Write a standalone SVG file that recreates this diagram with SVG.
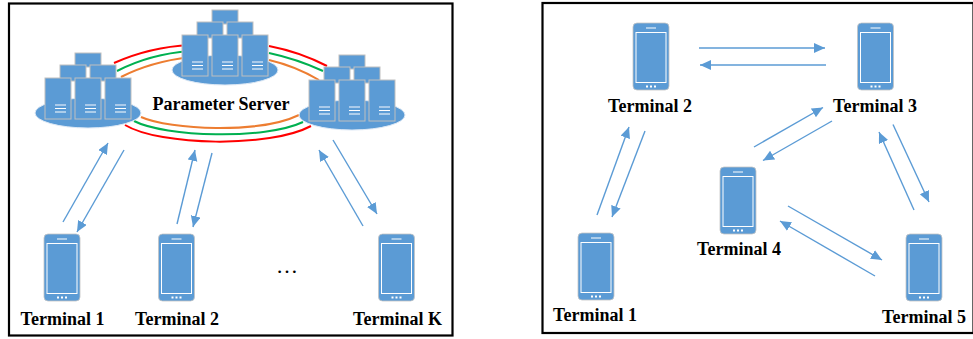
<svg xmlns="http://www.w3.org/2000/svg" width="973" height="339" viewBox="0 0 973 339">
<style>
.t{font-family:"Liberation Serif",serif;font-weight:bold;font-size:18px;fill:#000;text-anchor:middle}
.f{fill:none;stroke:#000;stroke-width:2.2}
.a{stroke:#5b9bd5;stroke-width:1.4;fill:none;marker-end:url(#ah)}
.b{fill:#5b9bd5;stroke:#bfbfbf;stroke-width:1}
.w{stroke:#fff;stroke-width:1;fill:none}
.r{fill:none;stroke-width:2}
</style>
<defs>
<marker id="ah" markerUnits="userSpaceOnUse" markerWidth="12" markerHeight="11" refX="11" refY="5" orient="auto"><path d="M0 0L11 5L0 10Z" fill="#5b9bd5"/></marker>
<g id="phone">
<rect x="0" y="0" width="36" height="67" rx="4" fill="#5b9bd5" stroke="#c4c4c4" stroke-width="0.8"/>
<rect x="3" y="9.500" width="30" height="50" fill="none" stroke="#fff" stroke-width="1"/>
<path d="M13 5H23" class="w"/>
<path d="M13 63.500h2M17 63.500h2M21 63.500h2" stroke="#fff" stroke-width="2" fill="none"/>
</g>
<g id="box"><rect width="26" height="41" class="b"/><path d="M10 30.500H21M10 34H21" class="w"/><path d="M10 27H21" stroke="#c5daf0" stroke-width="1.500"/></g>
<g id="server">
<ellipse cx="88" cy="113" rx="53" ry="15" fill="#5b9bd5" stroke="#dce8f5" stroke-width="1"/>
<rect x="75" y="53" width="26" height="14" class="b"/>
<rect x="60" y="65" width="26" height="16" class="b"/>
<rect x="90" y="65" width="26" height="16" class="b"/>
<use href="#box" x="45" y="78"/><use href="#box" x="75" y="78"/><use href="#box" x="105" y="78"/>
</g>
</defs>
<g id="frames">
<rect class="f" x="9" y="3.500" width="443.500" height="332"/>
<rect class="f" x="542.500" y="3" width="431" height="330"/>
</g>
<g id="connectors">
<g class="rings">
<path class="r" stroke="#ff0000" d="M114 63Q150 47 190 45M269 46Q300 52 327 66M125 125C160 146 270 148 311 126"/>
<path class="r" stroke="#00b050" d="M117 71Q150 54 190 51M269 53Q297 59 323 71M134 121C165 137 265 140 303 122"/>
<path class="r" stroke="#ed7d31" d="M121 77Q150 62 190 57M269 60Q295 66 319 80M141 117C170 130 260 134 299 115"/>
</g>
<path class="a" d="M63 222L108 143"/><path class="a" d="M124 150L77 232"/>
<path class="a" d="M177 224L195 150"/><path class="a" d="M212 153L193 227"/>
<path class="a" d="M363 226L319 150"/><path class="a" d="M333 140L377 214"/>
<path class="a" d="M699 48H825"/><path class="a" d="M826 65H700"/>
<path class="a" d="M597 215L629 127"/><path class="a" d="M645 131L612 217"/>
<path class="a" d="M754 147L823 107.500"/><path class="a" d="M832 121L763 160.500"/>
<path class="a" d="M914 210L879 132"/><path class="a" d="M893 124.500L929 202"/>
<path class="a" d="M788 206L882 260"/><path class="a" d="M875 276L780 221"/>
</g>
<g id="server-left"><use href="#server"/></g>
<g id="server-mid"><use href="#server" x="137" y="-43"/></g>
<g id="server-right"><use href="#server" x="264" y="2"/></g>
<g id="parameter-server"><text class="t" x="221" y="110">Parameter Server</text></g>
<g id="a-terminal-1"><use href="#phone" x="44" y="234"/><text class="t" x="62.500" y="325">Terminal 1</text></g>
<g id="a-terminal-2"><use href="#phone" x="158.500" y="234"/><text class="t" x="177" y="325">Terminal 2</text></g>
<g id="a-terminal-k"><use href="#phone" x="378.500" y="234"/><text class="t" x="397.500" y="325">Terminal K</text></g>
<g id="dots"><text x="287" y="273" font-family="Liberation Serif,serif" font-size="22" text-anchor="middle">…</text></g>
<g id="b-terminal-1"><use href="#phone" x="578" y="233"/><text class="t" x="595" y="321">Terminal 1</text></g>
<g id="b-terminal-2"><use href="#phone" x="633" y="23"/><text class="t" x="650" y="112">Terminal 2</text></g>
<g id="b-terminal-3"><use href="#phone" x="857.500" y="23"/><text class="t" x="875" y="112">Terminal 3</text></g>
<g id="b-terminal-4"><use href="#phone" x="720" y="167"/><text class="t" x="739" y="255">Terminal 4</text></g>
<g id="b-terminal-5"><use href="#phone" x="906" y="234"/><text class="t" x="924" y="323">Terminal 5</text></g>
</svg>
